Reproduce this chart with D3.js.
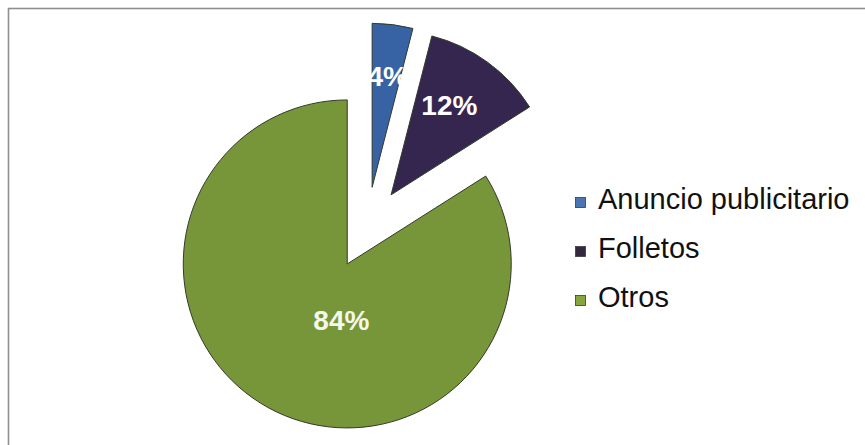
<!DOCTYPE html>
<html>
<head>
<meta charset="utf-8">
<script src="https://cdn.jsdelivr.net/npm/d3@7"></script>
<style>
  html, body { margin: 0; padding: 0; background: #fff; }
  svg { display: block; }
</style>
</head>
<body>
<svg id="chart" width="865" height="445"></svg>
<script>
const categories = ["Anuncio publicitario", "Folletos", "Otros"];
const values = [4, 12, 84];
const labels = ["4%", "12%", "84%"];
const colors = ["#3763a5", "#35264f", "#77963a"];
const legendColors = ["#4a74b2", "#34283f", "#86a43f"];

// label placement relative to each slice's apex (angle in degrees, distance in px)
const labelAngles = [8, 33, 186];
const labelDists = [112, 107, 56];

const W = 865, H = 445;
const cx = 367, cy = 228, R = 164, explode = 41;

const svg = d3.select("#chart");

// frame
svg.append("rect")
  .attr("x", 8.5).attr("y", 8.5)
  .attr("width", 900).attr("height", 500)
  .attr("fill", "#fff")
  .attr("stroke", "#8f8f8f").attr("stroke-width", 1.6);

const pie = d3.pie().sort(null).value(d => d).startAngle(0).endAngle(2 * Math.PI);
const arcs = pie(values);
const arc = d3.arc().innerRadius(0).outerRadius(R);

const g = svg.append("g").attr("transform", `translate(${cx},${cy})`);

const slices = g.selectAll("g.slice")
  .data(arcs)
  .join("g")
  .attr("class", "slice")
  .attr("transform", d => {
    const a = (d.startAngle + d.endAngle) / 2;
    return `translate(${explode * Math.sin(a)},${-explode * Math.cos(a)})`;
  });

slices.append("path")
  .attr("d", arc)
  .attr("fill", (d, i) => colors[i])
  .attr("stroke", "#333a2a")
  .attr("stroke-width", 1)
  .attr("stroke-linejoin", "miter");

slices.append("text")
  .attr("x", (d, i) => labelDists[i] * Math.sin(labelAngles[i] * Math.PI / 180))
  .attr("y", (d, i) => -labelDists[i] * Math.cos(labelAngles[i] * Math.PI / 180))
  .attr("dy", "0.36em")
  .attr("text-anchor", "middle")
  .attr("font-family", "Liberation Sans, Arial, sans-serif")
  .attr("font-weight", "bold")
  .attr("font-size", 28)
  .attr("fill", (d, i) => i === 2 ? "#f4f8ea" : "#ffffff")
  .text((d, i) => labels[i]);

// legend
const legendY = d3.scalePoint().domain(categories).range([199, 297]);
const lg = svg.append("g");
const rows = lg.selectAll("g.row").data(categories).join("g")
  .attr("class", "row")
  .attr("transform", d => `translate(575,${legendY(d)})`);

rows.append("rect")
  .attr("x", 0.5).attr("y", -1.5)
  .attr("width", 10).attr("height", 10)
  .attr("fill", (d, i) => legendColors[i])
  .attr("stroke", "#3a3a3a").attr("stroke-width", 0.8);

rows.append("text")
  .attr("x", 23)
  .attr("y", 0)
  .attr("dy", "0.36em")
  .attr("font-family", "Liberation Sans, Arial, sans-serif")
  .attr("font-size", 29)
  .attr("fill", "#111")
  .text(d => d);
</script>
</body>
</html>
